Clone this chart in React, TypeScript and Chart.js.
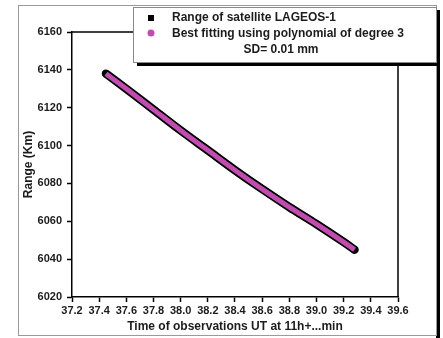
import React, { useEffect, useRef } from "react";
import { Chart, registerables } from "chart.js";

Chart.register(...registerables);

// Observation times (minutes after 11h UT)
const obsTimes = [37.45, 37.6, 37.8, 38.0, 38.2, 38.4, 38.6, 38.8, 39.0, 39.2, 39.28];
// Measured range of LAGEOS-1 (km)
const observedRange = [6138, 6130, 6119, 6108, 6097.5, 6087, 6077, 6067.5, 6058.5, 6049, 6045];
// Cubic polynomial fit evaluated at the same epochs (km)
const fittedRange = [6138, 6130, 6119, 6108, 6097.5, 6087, 6077, 6067.5, 6058.5, 6049, 6045];

const xTicks = [37.2, 37.4, 37.6, 37.8, 38.0, 38.2, 38.4, 38.6, 38.8, 39.0, 39.2, 39.4, 39.6];
const yTicks = [6020, 6040, 6060, 6080, 6100, 6120, 6140, 6160];

const seriesLabels = ["Range of satellite LAGEOS-1", "Best fitting using polynomial of degree 3"];
const noteLine = "SD= 0.01 mm";

const FONT = "'Liberation Sans', Arial, Helvetica, sans-serif";
const TEXT = "#1c1c1c";
const FIT_COLOR = "#c04caf";

const framePlugin = {
  id: "frameAndLegend",
  beforeDraw(chart: any) {
    const ctx = chart.ctx;
    ctx.save();
    ctx.fillStyle = "#ffffff";
    ctx.fillRect(0, 0, chart.width, chart.height);
    // outer frame with a dark drop edge on the right
    ctx.fillStyle = "#000";
    ctx.fillRect(436, 10, 4, chart.height - 10);
    ctx.strokeStyle = "#9a9a9a";
    ctx.lineWidth = 1;
    ctx.strokeRect(18.5, 5.5, 418, 330);
    ctx.restore();
  },
  afterDraw(chart: any) {
    const ctx = chart.ctx;
    const a = chart.chartArea;
    ctx.save();
    // top and right sides of the plot box
    ctx.strokeStyle = "#000";
    ctx.lineWidth = 1.5;
    ctx.beginPath();
    ctx.moveTo(a.left, a.top);
    ctx.lineTo(a.right, a.top);
    ctx.lineTo(a.right, a.bottom);
    ctx.stroke();

    // legend box with shadow
    const bx = 133, by = 7, bw = 303, bh = 55;
    ctx.fillStyle = "#000";
    ctx.fillRect(bx + 4, by + 4, bw, bh);
    ctx.fillStyle = "#fff";
    ctx.fillRect(bx, by, bw, bh);
    ctx.strokeStyle = "#8a8a8a";
    ctx.lineWidth = 1;
    ctx.strokeRect(bx + 0.5, by + 0.5, bw, bh);

    const labels = chart.data.datasets.map((d: any) => d.label);
    ctx.font = `bold 12px ${FONT}`;
    ctx.fillStyle = TEXT;
    ctx.textBaseline = "middle";
    ctx.textAlign = "left";
    ctx.fillText(labels[0], 172, 18);
    ctx.fillText(labels[1], 172, 33.5);
    ctx.textAlign = "center";
    ctx.fillText(noteLine, 281, 49.5);

    // markers
    ctx.fillStyle = "#000";
    ctx.fillRect(148, 15, 6, 6);
    ctx.fillStyle = FIT_COLOR;
    ctx.beginPath();
    ctx.arc(151, 33, 3.5, 0, Math.PI * 2);
    ctx.fill();
    ctx.restore();
  },
};

export default function App() {
  const ref = useRef<HTMLCanvasElement | null>(null);

  useEffect(() => {
    if (!ref.current) return;
    const chart = new Chart(ref.current, {
      type: "line",
      data: {
        datasets: [
          {
            label: seriesLabels[0],
            data: obsTimes.map((t, i) => ({ x: t, y: observedRange[i] })),
            borderColor: "#000",
            borderWidth: 8.5,
            borderCapStyle: "round",
            pointRadius: 0,
            cubicInterpolationMode: "monotone",
            order: 2,
          },
          {
            label: seriesLabels[1],
            data: obsTimes.map((t, i) => ({ x: t, y: fittedRange[i] })),
            borderColor: FIT_COLOR,
            borderWidth: 5,
            borderCapStyle: "butt",
            pointRadius: 0,
            cubicInterpolationMode: "monotone",
            order: 1,
          },
        ],
      },
      options: {
        responsive: false,
        animation: false,
        layout: { padding: { left: 18, right: 45, top: 32, bottom: 3 } },
        plugins: { legend: { display: false }, tooltip: { enabled: false } },
        scales: {
          x: {
            type: "linear",
            min: 37.2,
            max: 39.6,
            afterBuildTicks: (s: any) => {
              s.ticks = xTicks.map((v) => ({ value: v }));
            },
            afterFit: (s: any) => {
              s.height = 38;
            },
            grid: {
              drawOnChartArea: false,
              drawTicks: true,
              tickLength: 5,
              tickColor: "#000",
              tickWidth: 1.5,
            },
            border: { display: true, color: "#000", width: 1.5 },
            ticks: {
              autoSkip: false,
              maxRotation: 0,
              padding: 2,
              color: TEXT,
              font: { family: FONT, size: 11, weight: "bold" },
              callback: (v: any) => Number(v).toFixed(1),
            },
            title: {
              display: true,
              text: "Time of observations UT at 11h+...min",
              color: TEXT,
              font: { family: FONT, size: 12, weight: "bold" },
              padding: { top: 0, bottom: 1 },
            },
          },
          y: {
            type: "linear",
            min: 6020,
            max: 6160,
            afterBuildTicks: (s: any) => {
              s.ticks = yTicks.map((v) => ({ value: v }));
            },
            afterFit: (s: any) => {
              s.width = 54;
            },
            grid: {
              drawOnChartArea: false,
              drawTicks: true,
              tickLength: 5,
              tickColor: "#000",
              tickWidth: 1.5,
            },
            border: { display: true, color: "#000", width: 1.5 },
            ticks: {
              padding: 5,
              color: TEXT,
              font: { family: FONT, size: 11, weight: "bold" },
              callback: (v: any) => String(v),
            },
            title: {
              display: true,
              text: "Range (Km)",
              color: TEXT,
              font: { family: FONT, size: 12, weight: "bold" },
              padding: { top: 3, bottom: 0 },
            },
          },
        },
      },
      plugins: [framePlugin],
    } as any);
    return () => chart.destroy();
  }, []);

  return (
    <div style={{ position: "fixed", left: 0, top: 0, width: 443, height: 338 }}>
      <canvas ref={ref} width={443} height={338} />
    </div>
  );
}
